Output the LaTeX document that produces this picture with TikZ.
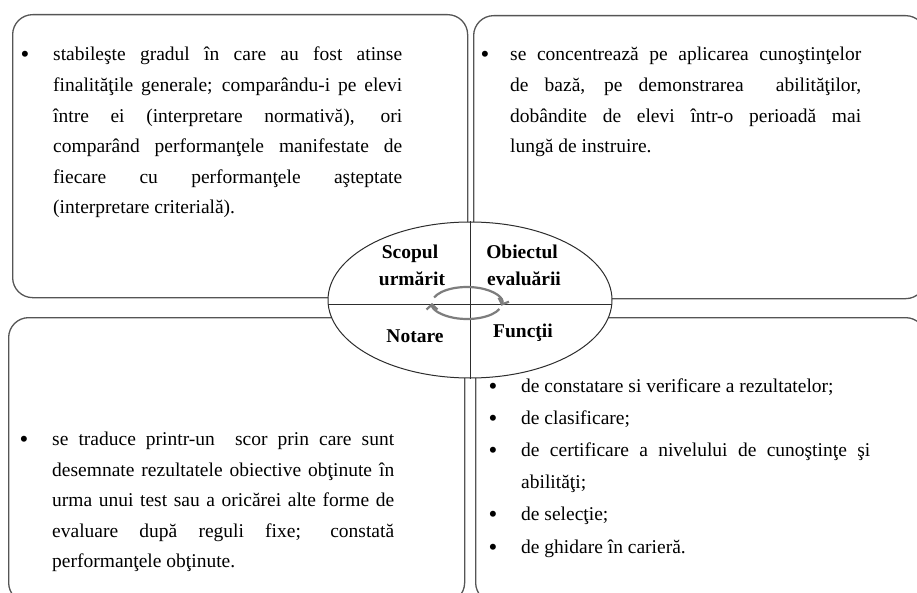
\documentclass[tikz,border=0pt]{standalone}
\usepackage{fontspec}
\setmainfont{Liberation Serif}
\usetikzlibrary{shapes.geometric,arrows.meta}
\definecolor{boxline}{RGB}{85,85,85}
\definecolor{arrowgray}{RGB}{125,125,125}
\definecolor{axisline}{RGB}{45,45,45}
\begin{document}
\begin{tikzpicture}[x=1pt,y=-1pt,
  panel/.style={draw=boxline, line width=1.3pt, rounded corners=20pt, inner sep=0, anchor=north west},
  body/.style={anchor=base west, inner sep=0, font=\fontsize{19.5pt}{30.6pt}\selectfont},
  dot/.style={anchor=base, inner sep=0, font=\fontsize{25pt}{30.6pt}\selectfont},
  lab/.style={anchor=base, inner sep=0, font=\fontsize{19.5pt}{24pt}\selectfont\bfseries},
  cycarrow/.style={draw=arrowgray, line width=2.2pt, -{Straight Barb[length=5pt,width=11pt]}}]
\useasboundingbox (0,0) rectangle (917,593);
% panels
\node[panel, minimum width=455pt, minimum height=283pt] (ptl) at (12,14) {};
\node[panel, minimum width=452pt, minimum height=283pt] (ptr) at (473,15) {};
\node[panel, minimum width=456pt, minimum height=285pt] (pbl) at (8,317) {};
\node[panel, minimum width=450pt, minimum height=285pt] (pbr) at (475,317) {};
% central ellipse
\node[ellipse, draw=axisline, line width=1pt, fill=white, minimum width=284pt, minimum height=156pt, inner sep=0] (ell) at (470,300) {};
\draw[axisline, line width=1pt] (ell.north) -- (ell.south);
\coordinate (hl) at (328.3,304);
\coordinate (hr) at (611.7,304);
\draw[axisline, line width=1pt] (hl) -- (hr);
% labels
\node[lab] (s1) at (410,259) {Scopul};
\node[lab] (s2) at (412,285) {urmărit};
\node[lab] (o1) at (522,259) {Obiectul};
\node[lab] (o2) at (524,285) {evaluării};
\node[lab] (n1) at (415,342) {Notare};
\node[lab] (f1) at (523,337) {Funcţii};
% rotating arrows
\coordinate (rot) at (467,303);
\draw[cycarrow] ([shift={(160:35pt and 16pt)}]rot) arc[start angle=160, end angle=-10, x radius=35pt, y radius=16pt];
\draw[cycarrow] ([shift={(-22:35pt and 16pt)}]rot) arc[start angle=-22, end angle=-180, x radius=35pt, y radius=16pt];
% top-left text
\node[dot] (tlb) at (25,63) {\textbullet};
\node[body] (tl1) at (53,61) {\makebox[349pt][s]{stabileşte gradul în care au fost atinse}};
\node[body] (tl2) at (53,91.6) {\makebox[349pt][s]{finalităţile generale; comparându-i pe elevi}};
\node[body] (tl3) at (53,122.2) {\makebox[349pt][s]{între ei (interpretare normativă), ori}};
\node[body] (tl4) at (53,152.8) {\makebox[349pt][s]{comparând performanţele manifestate de}};
\node[body] (tl5) at (53,183.4) {\makebox[349pt][s]{fiecare cu performanţele aşteptate}};
\node[body] (tl6) at (53,214) {(interpretare criterială).};
% top-right text
\node[dot] (trb) at (485,63) {\textbullet};
\node[body] (tr1) at (510,61) {\makebox[351pt][s]{se concentrează pe aplicarea cunoştinţelor}};
\node[body] (tr2) at (510,91.6) {\makebox[351pt][s]{de bază, pe demonstrarea\ \ abilităţilor,}};
\node[body] (tr3) at (510,122.2) {\makebox[351pt][s]{dobândite de elevi într-o perioadă mai}};
\node[body] (tr4) at (510,152.8) {lungă de instruire.};
% bottom-left text
\node[dot] (blb) at (24,447.5) {\textbullet};
\node[body] (bl1) at (52,445.5) {\makebox[342pt][s]{se traduce printr-un\ \ scor prin care sunt}};
\node[body] (bl2) at (52,476.1) {\makebox[342pt][s]{desemnate rezultatele obiective obţinute în}};
\node[body] (bl3) at (52,506.7) {\makebox[342pt][s]{urma unui test sau a oricărei alte forme de}};
\node[body] (bl4) at (52,537.3) {\makebox[342pt][s]{evaluare după reguli fixe; constată}};
\node[body] (bl5) at (52,567.9) {performanţele obţinute.};
% bottom-right list
\node[dot] (brb1) at (493,394) {\textbullet};
\node[body] (br1) at (521,392) {de constatare si verificare a rezultatelor;};
\node[dot] (brb2) at (493,426.2) {\textbullet};
\node[body] (br2) at (521,424.2) {de clasificare;};
\node[dot] (brb3) at (493,458.4) {\textbullet};
\node[body] (br3) at (521,456.4) {\makebox[349pt][s]{de certificare a nivelului de cunoştinţe şi}};
\node[body] (br3b) at (521,488.6) {abilităţi;};
\node[dot] (brb4) at (493,522.8) {\textbullet};
\node[body] (br4) at (521,520.8) {de selecţie;};
\node[dot] (brb5) at (493,555) {\textbullet};
\node[body] (br5) at (521,553) {de ghidare în carieră.};
\end{tikzpicture}
\end{document}
